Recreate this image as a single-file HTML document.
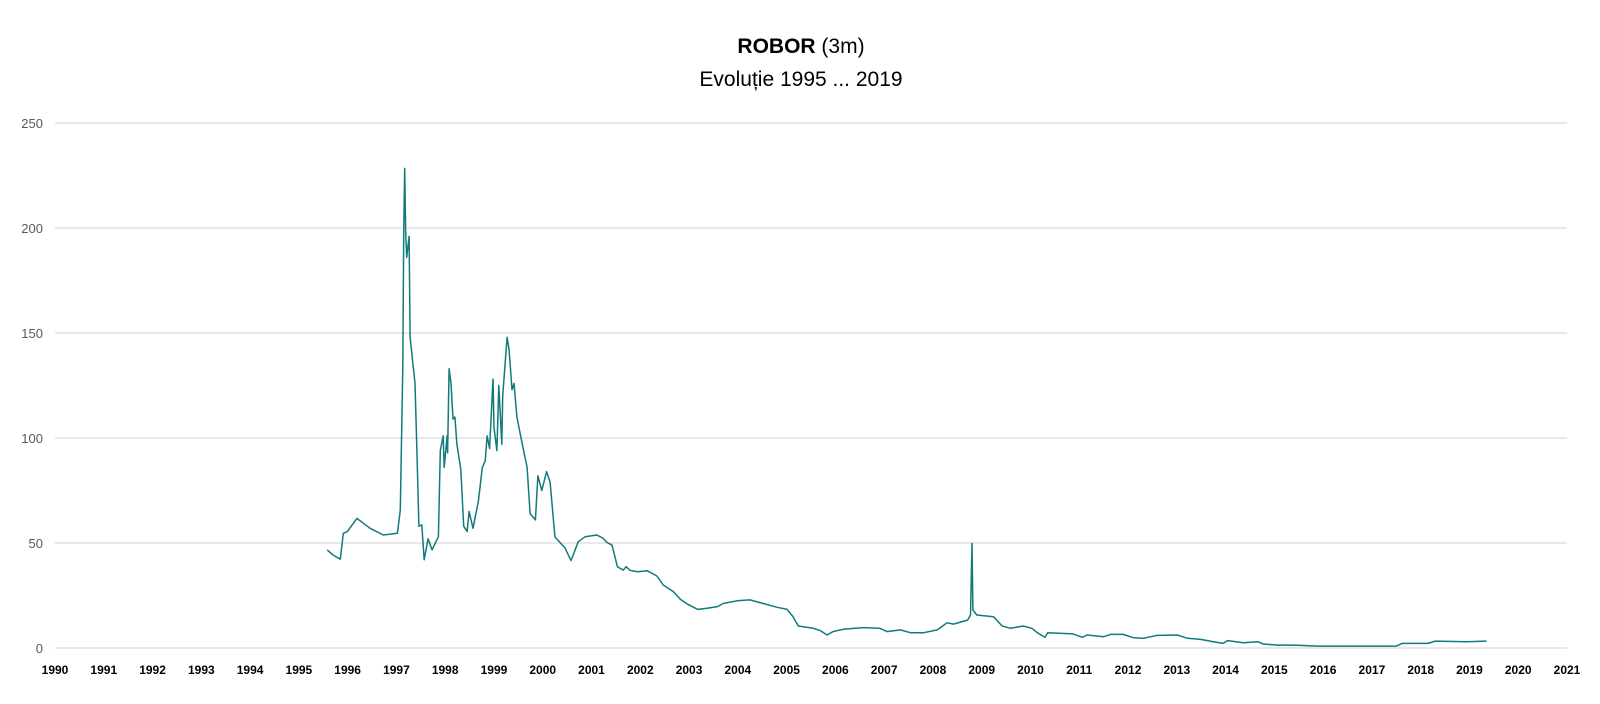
<!DOCTYPE html>
<html><head><meta charset="utf-8"><style>
html,body{margin:0;padding:0;background:#fff;}
body{width:1600px;height:699px;overflow:hidden;font-family:"Liberation Sans",sans-serif;}
</style></head><body>
<svg id="chart" width="1600" height="699" viewBox="0 0 1600 699" xmlns="http://www.w3.org/2000/svg">
<text x="801" y="53" text-anchor="middle" font-family="Liberation Sans, sans-serif" font-size="21" fill="#000"><tspan font-weight="bold">ROBOR</tspan> (3m)</text>
<text x="801" y="86" text-anchor="middle" font-family="Liberation Sans, sans-serif" font-size="21" fill="#000">Evoluție 1995 ... 2019</text>
<g id="grid"></g><g id="yticks"></g><g id="xticks"></g><g id="series"></g>
</svg>
<script>
const years = [1995.58,1995.70,1995.85,1995.91,1995.99,1996.19,1996.46,1996.73,1997.02,1997.08,1997.13,1997.15,1997.17,1997.19,1997.21,1997.26,1997.28,1997.38,1997.42,1997.46,1997.52,1997.57,1997.65,1997.73,1997.86,1997.90,1997.96,1997.98,1998.04,1998.05,1998.08,1998.12,1998.16,1998.20,1998.24,1998.32,1998.38,1998.45,1998.49,1998.57,1998.68,1998.76,1998.82,1998.86,1998.91,1998.98,1999.00,1999.06,1999.10,1999.16,1999.18,1999.27,1999.31,1999.37,1999.41,1999.47,1999.58,1999.68,1999.74,1999.85,1999.90,1999.98,2000.08,2000.15,2000.25,2000.46,2000.58,2000.73,2000.87,2001.11,2001.24,2001.32,2001.42,2001.53,2001.65,2001.71,2001.79,2001.95,2002.14,2002.34,2002.47,2002.68,2002.82,2002.96,2003.18,2003.37,2003.58,2003.70,2003.98,2004.25,2004.52,2004.81,2005.01,2005.13,2005.24,2005.55,2005.69,2005.83,2005.95,2006.16,2006.57,2006.91,2007.06,2007.33,2007.54,2007.81,2008.09,2008.29,2008.42,2008.71,2008.77,2008.80,2008.82,2008.90,2009.24,2009.42,2009.59,2009.85,2010.03,2010.14,2010.30,2010.35,2010.87,2011.06,2011.16,2011.50,2011.64,2011.90,2012.11,2012.31,2012.60,2013.01,2013.22,2013.49,2013.75,2013.95,2014.04,2014.37,2014.66,2014.77,2015.06,2015.39,2015.88,2017.50,2017.62,2018.15,2018.30,2018.95,2019.35];
const values = [46.7,44.3,42.3,54.6,55.4,61.7,57,53.8,54.6,65.7,134,197.5,228.4,197.5,186,196,148,126,94,58,58.6,42,52,46.7,53,94,101,86,101,93,133,126,109,110,97,85,58,55.5,65,57,70,86,89,101,95,128,105,94,125,97,120,148,142,123,126,110,97,86,64,61,82,75,84,79,53,47.5,41.6,50.6,53,53.8,52.2,50.2,49,38.7,37.1,38.7,37,36.3,36.8,34.3,30,26.8,23.2,21,18.4,18.9,19.7,21.2,22.5,22.9,21.2,19.4,18.4,14.9,10.5,9.4,8.3,6.2,7.8,8.9,9.7,9.4,7.8,8.6,7.3,7.3,8.6,12,11.4,13.3,15.7,49.8,18.1,15.7,14.9,10.5,9.4,10.5,9.4,7.3,5.1,7.3,6.7,5.1,6.2,5.4,6.5,6.5,4.9,4.6,6.0,6.2,4.6,4.1,3.0,2.2,3.5,2.5,3.0,1.9,1.4,1.4,0.9,0.9,2.2,2.2,3.3,3.0,3.3];
const yTicks = [0,50,100,150,200,250];
const xTickYears = [1990,1991,1992,1993,1994,1995,1996,1997,1998,1999,2000,2001,2002,2003,2004,2005,2006,2007,2008,2009,2010,2011,2012,2013,2014,2015,2016,2017,2018,2019,2020,2021];

const NS = "http://www.w3.org/2000/svg";
const X0 = 55, X1 = 1567, Y0 = 648, YTOP = 123;
function xScale(yr){ return X0 + (yr - 1990) / (2021 - 1990) * (X1 - X0); }
function yScale(v){ return Y0 - v / 250 * (Y0 - YTOP); }

const grid = document.getElementById('grid');
const yt = document.getElementById('yticks');
yTicks.forEach(t => {
  const l = document.createElementNS(NS, 'line');
  l.setAttribute('x1', X0); l.setAttribute('x2', X1);
  l.setAttribute('y1', yScale(t)); l.setAttribute('y2', yScale(t));
  l.setAttribute('stroke', '#d0d0d0'); l.setAttribute('stroke-width', '1');
  
  
  grid.appendChild(l);
  const tx = document.createElementNS(NS, 'text');
  tx.setAttribute('x', 43); tx.setAttribute('y', yScale(t) + 5);
  tx.setAttribute('text-anchor', 'end');
  tx.setAttribute('font-size', '13'); tx.setAttribute('fill', '#595959');
  tx.textContent = t;
  
  
  yt.appendChild(tx);
});
const xt = document.getElementById('xticks');
xTickYears.forEach(y => {
  const tx = document.createElementNS(NS, 'text');
  tx.setAttribute('x', xScale(y)); tx.setAttribute('y', 674);
  tx.setAttribute('text-anchor', 'middle');
  tx.setAttribute('font-size', '12'); tx.setAttribute('font-weight', 'bold'); tx.setAttribute('fill', '#000');
  tx.textContent = y;
  
  
  xt.appendChild(tx);
});
const p = document.createElementNS(NS, 'path');
let d = '';
years.forEach((yr, i) => { d += (i ? 'L' : 'M') + xScale(yr).toFixed(1) + ',' + yScale(values[i]).toFixed(1); });
p.setAttribute('d', d);
p.setAttribute('fill', 'none'); p.setAttribute('stroke', '#117a7a'); p.setAttribute('stroke-width', '1.5');
p.setAttribute('stroke-linejoin', 'round');


document.getElementById('series').appendChild(p);
</script>
</body></html>
